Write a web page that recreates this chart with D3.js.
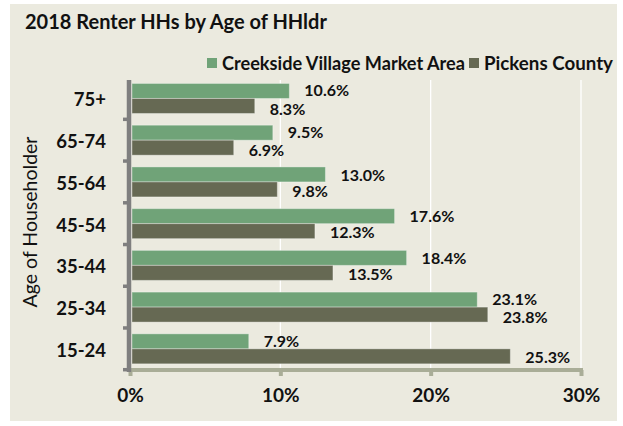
<!DOCTYPE html>
<html><head><meta charset="utf-8">
<script src="https://cdn.jsdelivr.net/npm/d3@7"></script>
<style>
html,body{margin:0;padding:0;background:#fff;}
svg{display:block;}
text{font-family:Lato,"Open Sans",sans-serif;}
</style></head>
<body>
<svg id="chart" width="623" height="426"></svg>
<script>
const categories = ["75+","65-74","55-64","45-54","35-44","25-34","15-24"];
const seriesNames = ["Creekside Village Market Area","Pickens County"];
const marketArea = [10.6, 9.5, 13.0, 17.6, 18.4, 23.1, 7.9];
const pickens = [8.3, 6.9, 9.8, 12.3, 13.5, 23.8, 25.3];
const xTicks = [0, 10, 20, 30];
const colors = ["#70A378", "#666953"];

const svg = d3.select("#chart");
svg.append("rect").attr("x",10).attr("y",4).attr("width",607).attr("height",417).attr("fill","#EBEADF");

const x = d3.scaleLinear().domain([0,30]).range([130,581]);
const y = d3.scaleBand().domain(categories).range([77.6,369.7]);
const barH = 15;

// gridlines
svg.append("g").selectAll("line").data(xTicks.filter(d=>d>0)).join("line")
  .attr("x1",d=>x(d)).attr("x2",d=>x(d)).attr("y1",80).attr("y2",369)
  .attr("stroke","#ffffff").attr("stroke-width",1.3);

// title
svg.append("text").attr("x",25).attr("y",29).attr("font-size",20).attr("font-weight","bold")
  .attr("fill","#111").text("2018 Renter HHs by Age of HHldr");

// legend
const leg = svg.append("g");
const legItems = [{x:207, tx:222, w:243, name:seriesNames[0], c:colors[0]},{x:469, tx:484, w:129, name:seriesNames[1], c:colors[1]}];
legItems.forEach(l=>{
  leg.append("rect").attr("x",l.x).attr("y",58).attr("width",10).attr("height",10).attr("fill",l.c);
  leg.append("text").attr("x",l.tx).attr("y",70).attr("font-size",18).attr("font-weight","bold").attr("fill","#111")
    .attr("textLength",l.w).attr("lengthAdjust","spacingAndGlyphs").text(l.name);
});

// bars
const series = [marketArea, pickens];
series.forEach((vals, si) => {
  const g = svg.append("g");
  categories.forEach((cat, i) => {
    const yc = y(cat) + y.bandwidth()/2;
    const y0 = si === 0 ? yc - barH : yc;
    // push labels apart slightly when both labels sit in the same column
    const close = Math.abs(marketArea[i] - pickens[i]) < 3;
    const nudge = close ? (si === 0 ? -1 : 1.5) : 0;
    g.append("rect").attr("x",x(0)+2).attr("y",y0).attr("width",x(vals[i])-x(0)-2).attr("height",barH)
      .attr("fill",colors[si]).attr("stroke","rgba(255,255,255,0.35)").attr("stroke-width",1);
    g.append("text").attr("x",x(vals[i])+15).attr("y",y0+barH/2+(si===0?0.5:1.5)+nudge).attr("dy","0.35em")
      .attr("font-size",16).attr("font-weight","bold").attr("fill","#111")
      .text(vals[i].toFixed(1)+"%");
  });
});

// x axis
const xAxis = d3.axisBottom(x).tickValues(xTicks).tickFormat(d=>d+"%").tickSize(6).tickPadding(13);
const gx = svg.append("g").attr("transform","translate(0,370)").call(xAxis);
gx.select(".domain").attr("stroke","#A9AD97").attr("stroke-width",4).attr("d","M130,0H583");
gx.selectAll(".tick line").attr("stroke","#A9AD97").attr("stroke-width",4);
gx.selectAll(".tick text").attr("font-size",19).attr("font-weight","bold").attr("fill","#111")
  .attr("font-family","Lato, 'Open Sans', sans-serif");

// y axis
const boundaries = categories.map(c=>y(c)+y.bandwidth());
const gy = svg.append("g");
gy.append("line").attr("x1",129).attr("x2",129).attr("y1",80).attr("y2",372).attr("stroke","#7F7F7F").attr("stroke-width",4.5);
gy.selectAll("line.tk").data(boundaries).join("line").attr("class","tk")
  .attr("x1",123).attr("x2",129).attr("y1",d=>d).attr("y2",d=>d).attr("stroke","#7F7F7F").attr("stroke-width",3.5);
gy.selectAll("text").data(categories).join("text")
  .attr("x",106).attr("y",d=>y(d)+y.bandwidth()/2+1.5).attr("dy","0.35em").attr("text-anchor","end")
  .attr("font-size",18.5).attr("font-weight","bold").attr("fill","#111").text(d=>d);

svg.append("text").attr("transform","translate(37,222) rotate(-90)").attr("text-anchor","middle")
  .attr("font-size",19.5).attr("fill","#111").text("Age of Householder");
</script>
</body></html>
